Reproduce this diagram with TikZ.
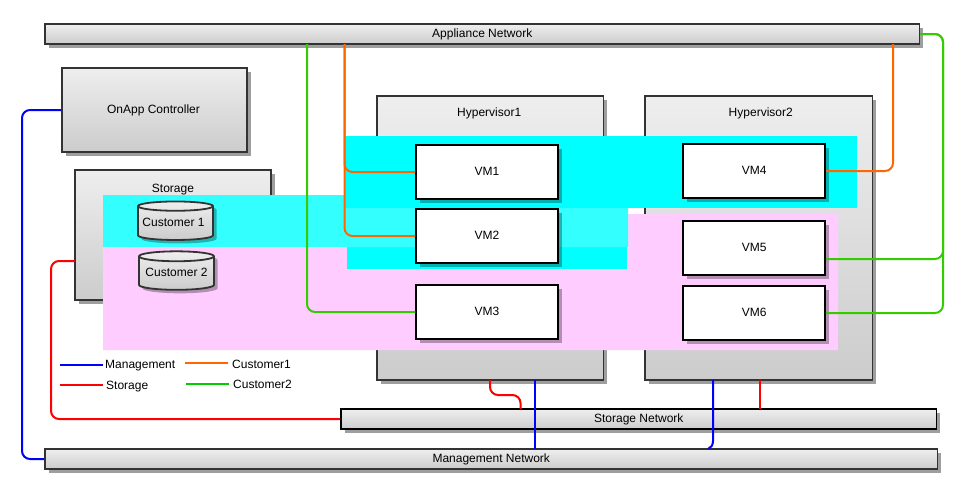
\documentclass[tikz,border=0pt]{standalone}
\usepackage{fontspec}
\setmainfont{Liberation Sans}
\usetikzlibrary{shadows,shapes.geometric}
\definecolor{cFull}{HTML}{00FFFF}
\definecolor{cLight}{HTML}{33FFFF}
\definecolor{cPink}{HTML}{FFCCFF}
\definecolor{cOrange}{HTML}{FF6600}
\definecolor{cGreen}{HTML}{33CC00}
\definecolor{cLegGreen}{HTML}{00CC00}
\definecolor{cEdge}{HTML}{333333}
\definecolor{cTop}{HTML}{EEEEEE}
\definecolor{cBot}{HTML}{CCCCCC}
\tikzset{
  base/.style={rectangle,inner sep=0pt,font=\fontsize{12}{14}\selectfont,text=black},
  gbox/.style={base,draw=cEdge,line width=1.8pt,top color=cTop,bottom color=cBot,
    drop shadow={shadow xshift=3.5pt,shadow yshift=-3.5pt,fill=black,opacity=.38}},
  blackbar/.style={gbox,draw=black},
  vmbox/.style={base,draw=black,line width=2pt,fill=white,minimum width=141.5pt,minimum height=54pt,
    drop shadow={shadow xshift=4pt,shadow yshift=-4pt,fill=black,opacity=.3}},
  db/.style={cylinder,shape border rotate=90,aspect=.16,draw=cEdge,line width=1.8pt,inner sep=0pt,
    minimum width=75pt,minimum height=38.5pt,top color=cTop,bottom color=cBot,
    font=\fontsize{12}{14}\selectfont,
    drop shadow={shadow xshift=3.5pt,shadow yshift=-3.5pt,fill=black,opacity=.3}},
  link/.style={line width=2pt,rounded corners=8pt},
  legend/.style={line width=2pt},
  legtext/.style={base,anchor=west},
  toplabel/.style={anchor=north,font=\fontsize{12}{14}\selectfont,inner sep=0pt},
}
\begin{document}
\begin{tikzpicture}[x=1pt,y=-1pt]
\useasboundingbox (0,0) rectangle (964,490);
% boxes
\node[gbox,minimum width=874.5pt,minimum height=20pt] (appl) at (482.25,34) {Appliance Network};
\node[gbox,minimum width=185pt,minimum height=84pt] (ctrl) at (154.5,110) {\hspace*{-2pt}OnApp Controller};
\node[gbox,minimum width=196pt,minimum height=130pt,label={[toplabel,yshift=-14.5pt]north:Storage}] (stor) at (173,235) {};
\node[gbox,minimum width=226.4pt,minimum height=284pt,label={[toplabel,yshift=-12.5pt,xshift=-1pt]north:Hypervisor1}] (hv1) at (490.2,238) {};
\node[gbox,minimum width=227.5pt,minimum height=284pt,label={[toplabel,yshift=-12.5pt,xshift=2pt]north:Hypervisor2}] (hv2) at (758.75,238) {};
% coloured bands
\fill[cPink] (103,247) -- (347,247) -- (347,269) -- (627,269) -- (627,214) -- (838,214) -- (838,350) -- (103,350) -- cycle;
\fill[cFull] (347,208) rectangle (627,269);
\fill[cLight] (103,195) -- (345,195) -- (345,208) -- (628,208) -- (628,247) -- (103,247) -- cycle;
\fill[cFull] (345,136) rectangle (857,208);
% storage items
\node[db] (c1) at (175.5,223.5) {\raisebox{1.5pt}{\hspace*{-4pt}Customer 1}};
\node[db] (c2) at (176.5,273.5) {\raisebox{1.5pt}{Customer 2}};
% VMs
\node[vmbox] (vm1) at (487,172) {\raisebox{1pt}{VM1}};
\node[vmbox] (vm2) at (487,236) {\raisebox{1pt}{VM2}};
\node[vmbox] (vm3) at (487,312) {\raisebox{1pt}{VM3}};
\node[vmbox] (vm4) at (754.2,171) {\raisebox{1pt}{VM4}};
\node[vmbox] (vm5) at (754.2,248) {\raisebox{1pt}{VM5}};
\node[vmbox] (vm6) at (754.2,313) {\raisebox{1pt}{VM6}};
% networks
\node[blackbar,minimum width=595.5pt,minimum height=20pt] (snet) at (638.75,419) {Storage Network};
\node[gbox,minimum width=892.5pt,minimum height=20pt] (mnet) at (491.25,459) {Management Network};
% connector anchors
\coordinate (a1) at (344.5,44);
\coordinate (a2) at (307,44);
\coordinate (a3) at (893,44);
\coordinate (g1) at (943,34);
\coordinate (g5) at (826,259);
\coordinate (s1) at (75,261);
\coordinate (h1r) at (490,380);
\coordinate (s2) at (520.5,409);
\coordinate (h2r) at (760,380);
\coordinate (s3) at (760,409);
\coordinate (h1b) at (535,380);
\coordinate (m1) at (535,449);
\coordinate (h2b) at (713,380);
\coordinate (m2) at (708,449);
% connectors
\draw[link,cOrange] (a1) |- (vm1.west);
\draw[link,cOrange] (a1) |- (vm2.west);
\draw[link,cGreen] (a2) |- (vm3.west);
\draw[link,cOrange] (vm4.east) -| (a3);
\draw[link,cGreen] (appl.east) -| (g1 |- g5) -- (g5);
\draw[link,cGreen] (appl.east) -| (g1 |- vm6.east) -- (vm6.east);
\draw[link,blue] (ctrl.west) -- (22,110) -- (22,459) -- (mnet.west);
\draw[link,red] (s1) -- (51,261) -- (51,419) -- (snet.west);
\draw[link,red] (h1r) -- (490,395) -- (520.5,395) -- (s2);
\draw[link,red] (h2r) -- (s3);
\draw[link,blue] (h1b) -- (m1);
\draw[line width=2pt,blue] (h2b) -- (713,441) .. controls (713,445) and (711,448) .. (m2);
% legend
\coordinate (l1a) at (60,365); \coordinate (l1b) at (103,365);
\coordinate (l2a) at (60,385); \coordinate (l2b) at (103,385);
\coordinate (l3a) at (185,363); \coordinate (l3b) at (228,363);
\coordinate (l4a) at (186,384); \coordinate (l4b) at (229,384);
\draw[legend,blue] (l1a) -- (l1b);
\draw[legend,red] (l2a) -- (l2b);
\draw[legend,cOrange] (l3a) -- (l3b);
\draw[legend,cLegGreen] (l4a) -- (l4b);
\node[legtext] (t1) at (105,365.5) {Management};
\node[legtext] (t2) at (106,386.5) {Storage};
\node[legtext] (t3) at (232,364) {Customer1};
\node[legtext] (t4) at (233,384) {Customer2};
\end{tikzpicture}
\end{document}
